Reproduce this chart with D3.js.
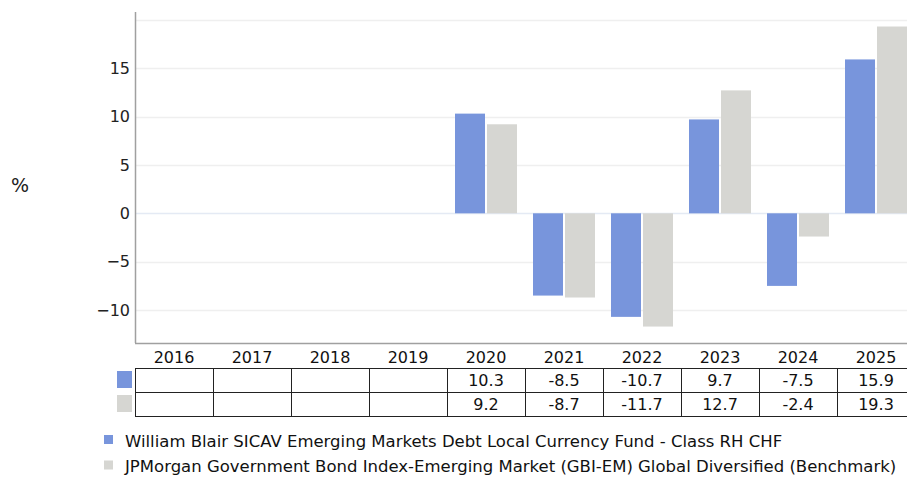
<!DOCTYPE html>
<html><head><meta charset="utf-8">
<script src="https://cdn.jsdelivr.net/npm/d3@7"></script>
<style>body{margin:0;background:#fff}svg{display:block;font-family:Tahoma,"DejaVu Sans",sans-serif}</style>
</head><body><svg id="c" width="907" height="477"></svg>
<script>
const years = ["2016","2017","2018","2019","2020","2021","2022","2023","2024","2025"];
const fundValues = [null,null,null,null,10.3,-8.5,-10.7,9.7,-7.5,15.9];
const benchValues = [null,null,null,null,9.2,-8.7,-11.7,12.7,-2.4,19.3];
const seriesNames = ["William Blair SICAV Emerging Markets Debt Local Currency Fund - Class RH CHF","JPMorgan Government Bond Index-Emerging Market (GBI-EM) Global Diversified (Benchmark)"];
const colors = ["#7895dc","#d6d6d2"];
const yTicks = [-10,-5,0,5,10,15,20];

(function(){
const svg = d3.select("#c");
const pL = 135, pR = 915, pT = 12, pB = 343;
const y = d3.scaleLinear().domain([-13.4, 20.8]).range([pB, pT]);
const x = d3.scaleBand().domain(years).range([pL, pR]);
const x1 = d3.scaleBand().domain([0,1]).range([8,70]).paddingInner(0.0625);
const series = [fundValues, benchValues];

svg.append("g").selectAll("line").data(yTicks).join("line")
  .attr("x1", pL).attr("x2", 907).attr("y1", d=>Math.round(y(d))+0.5).attr("y2", d=>Math.round(y(d))+0.5)
  .attr("stroke", d=> d===0 ? "#e4eaf4" : "#efefef").attr("stroke-width",1.5);

series.forEach((vals, si) => {
  svg.append("g").selectAll("rect").data(years.map((yr,i)=>({yr, v: vals[i]})).filter(d=>d.v!=null)).join("rect")
    .attr("x", d=> x(d.yr) + x1(si)).attr("width", x1.bandwidth())
    .attr("y", d=> y(Math.max(0,d.v))).attr("height", d=> Math.abs(y(d.v)-y(0)))
    .attr("fill", colors[si]);
});

const yAxis = d3.axisLeft(y).tickValues(yTicks.filter(t=>t<20)).tickSize(0).tickPadding(5).tickFormat(d3.format(""));
const ga = svg.append("g").attr("transform",`translate(${pL},0)`).call(yAxis);
ga.select(".domain").remove();
ga.selectAll("text").attr("font-size",16).attr("fill","#222").attr("font-family",'Tahoma,"DejaVu Sans",sans-serif');

svg.append("line").attr("x1",pL+0.5).attr("x2",pL+0.5).attr("y1",pT).attr("y2",pB).attr("stroke","#a0a0a0").attr("stroke-width",1.5);
svg.append("line").attr("x1",pL).attr("x2",907).attr("y1",pB+0.5).attr("y2",pB+0.5).attr("stroke","#a0a0a0").attr("stroke-width",1.5);

svg.append("text").attr("x",20).attr("y",192).attr("text-anchor","middle").attr("font-size",19).attr("fill","#222").text("%");

const rowTop = 368, rowH = 24;
svg.append("g").selectAll("text").data(years).join("text")
  .attr("x", d=> x(d)+x.bandwidth()/2).attr("y", 363).attr("text-anchor","middle")
  .attr("font-size",16).attr("fill","#111").text(d=>d);
const tg = svg.append("g");
[0,1,2].forEach(r => tg.append("line").attr("x1",pL).attr("x2",pR).attr("y1",rowTop+r*rowH+0.5).attr("y2",rowTop+r*rowH+0.5).attr("stroke","#222"));
years.concat(["end"]).forEach((d,i)=>{
  const xx = i<years.length ? x(d) : pR;
  tg.append("line").attr("x1",xx+0.5).attr("x2",xx+0.5).attr("y1",rowTop).attr("y2",rowTop+2*rowH).attr("stroke","#222");
});
series.forEach((vals, si) => {
  tg.append("rect").attr("x",117).attr("y",rowTop+si*rowH+3).attr("width",15).attr("height",17).attr("fill",colors[si]);
  tg.append("g").selectAll("text").data(years.map((yr,i)=>({yr,v:vals[i]})).filter(d=>d.v!=null)).join("text")
    .attr("x", d=> x(d.yr)+x.bandwidth()/2).attr("y", rowTop+si*rowH+18).attr("text-anchor","middle")
    .attr("font-size",16).attr("fill","#111").text(d=>d.v.toFixed(1));
});

const lg = svg.append("g");
seriesNames.forEach((n,i)=>{
  lg.append("rect").attr("x",104).attr("y",435+i*25.5).attr("width",9).attr("height",9).attr("fill",colors[i]);
  lg.append("text").attr("x",125).attr("y",447+i*25).attr("font-size",16.5).attr("fill","#111").text(n);
});
})();
</script></body></html>
